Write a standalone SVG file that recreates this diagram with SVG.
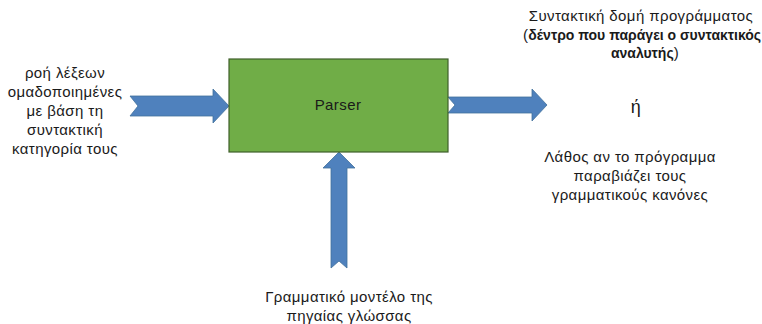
<svg xmlns="http://www.w3.org/2000/svg" width="762" height="324" viewBox="0 0 762 324">
<style>
.t{font-family:"Liberation Sans",Arial,sans-serif;font-size:15px;letter-spacing:0.4px;fill:#1a1a1a;text-anchor:middle}
.b{font-weight:bold;font-size:14px;letter-spacing:0px}
.arrow{fill:#4F81BD;stroke:#41719C;stroke-width:0.8}
.box{fill:#70AD47;stroke:#3F5F2A;stroke-width:1.2}
</style>
<rect width="762" height="324" fill="#ffffff"/>
<g id="connectors">
<polygon class="arrow" points="130,96 213,96 213,89 229,106 213,123 213,116 130,116 138,106"/>
<polygon class="arrow" points="448,97 532,97 532,89 547,105 532,121 532,113 448,113 455,105"/>
<polygon class="arrow" points="331,268 331,168 323,168 339,152 355,168 347,168 347,268 339,261"/>
</g>
<g id="parser">
<rect class="box" x="229" y="59" width="219" height="93"/>
<text class="t" x="338" y="110">Parser</text>
</g>
<g id="input-label">
<text class="t" x="65" y="78">ροή λέξεων</text>
<text class="t" x="65" y="97">ομαδοποιημένες</text>
<text class="t" x="65" y="116">με βάση τη</text>
<text class="t" x="65" y="135">συντακτική</text>
<text class="t" x="65" y="154">κατηγορία τους</text>
</g>
<g id="output-label">
<text class="t" x="641" y="21">Συντακτική δομή προγράμματος</text>
<text class="t" x="642" y="40">(<tspan class="b">δέντρο που παράγει ο συντακτικός</tspan></text>
<text class="t" x="645" y="58"><tspan class="b">αναλυτής</tspan>)</text>
<text class="t" x="636" y="113" style="font-size:18px">ή</text>
<text class="t" x="630" y="162">Λάθος αν το πρόγραμμα</text>
<text class="t" x="630" y="181">παραβιάζει τους</text>
<text class="t" x="630" y="200">γραμματικούς κανόνες</text>
</g>
<g id="grammar-label">
<text class="t" x="349" y="302">Γραμματικό μοντέλο της</text>
<text class="t" x="349" y="321">πηγαίας γλώσσας</text>
</g>
</svg>
